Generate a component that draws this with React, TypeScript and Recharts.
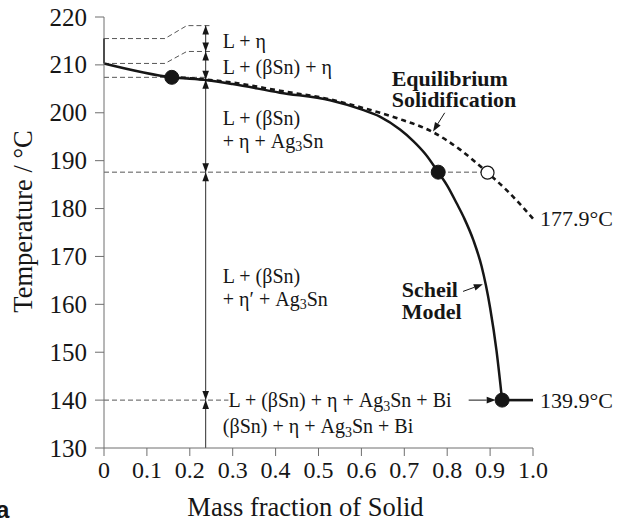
import React from 'react';
import {
  ComposedChart, Line, Scatter, XAxis, YAxis, ReferenceLine, ReferenceDot
} from 'recharts';

const SERIF = '"Liberation Serif", "Times New Roman", serif';
const INK = '#161616';
const AXIS = '#6e6e6e';

// axes
const xTicks = [0, 0.1, 0.2, 0.3, 0.4, 0.5, 0.6, 0.7, 0.8, 0.9, 1.0];
const yTicks = [130, 140, 150, 160, 170, 180, 190, 200, 210, 220];

// Scheil model (solid)
const scheilX = [0, 0.158, 0.24, 0.3, 0.41, 0.527, 0.6, 0.643, 0.69, 0.721, 0.75, 0.779, 0.8, 0.822, 0.84, 0.861, 0.88, 0.9, 0.915, 0.928];
const scheilT = [210.3, 207.4, 206.8, 206.0, 204.2, 202.6, 200.7, 199.2, 196.5, 194.1, 191.3, 187.6, 184.8, 181.1, 177.9, 173.4, 168.0, 159.3, 150.3, 140.0];
const scheilTailX = [0.928, 1.0];
const scheilTailT = [140.0, 140.0];
const liquidusX = [0, 0];
const liquidusT = [210.3, 215.5];

// equilibrium solidification (dashed)
const equilX = [0.158, 0.3, 0.41, 0.527, 0.604, 0.682, 0.768, 0.83, 0.894, 0.939, 1.0];
const equilT = [207.5, 206.3, 204.6, 202.8, 201.0, 198.9, 195.9, 192.3, 187.5, 183.8, 177.9];

// thin dashed guides
const guideLX = [0, 0.142, 0.193, 0.247];
const guideLT = [215.5, 215.5, 218.2, 218.2];
const guideEtaX = [0, 0.142, 0.193, 0.247];
const guideEtaT = [210.3, 210.3, 212.8, 212.8];
const guideSnX = [0, 0.24];
const guideSnT = [207.4, 207.4];
const guideAgX = [0, 0.894];
const guideAgT = [187.6, 187.6];
const guideBiX = [0, 0.29];
const guideBiT = [140.0, 140.0];

// vertical phase-range arrows
const rangeX = 0.237;
const rangeTop = 218.2;
const rangeBottom = 130;
const boundaryT = [218.2, 212.8, 206.9, 187.6, 140.0];

// markers
const filledDots = [
  { x: 0.158, y: 207.4 },
  { x: 0.779, y: 187.6 },
  { x: 0.928, y: 140.0 },
];
const openDots = [{ x: 0.894, y: 187.5 }];

// text annotations ({3} = subscript)
const phaseLabels = [
  { x: 0.277, y: 214.9, text: 'L + η' },
  { x: 0.277, y: 209.6, text: 'L + (βSn) + η' },
  { x: 0.277, y: 199.0, text: 'L + (βSn)' },
  { x: 0.277, y: 194.2, text: '+ η + Ag{3}Sn' },
  { x: 0.277, y: 165.9, text: 'L + (βSn)' },
  { x: 0.277, y: 161.2, text: '+ η′ + Ag{3}Sn' },
  { x: 0.29, y: 140.0, text: 'L + (βSn) + η + Ag{3}Sn + Bi' },
  { x: 0.277, y: 134.5, text: '(βSn) + η + Ag{3}Sn + Bi' },
];
const modelLabels = [
  { x: 0.6706, y: 207.2, text: 'Equilibrium' },
  { x: 0.6706, y: 202.7, text: 'Solidification' },
  { x: 0.694, y: 163.0, text: 'Scheil' },
  { x: 0.694, y: 158.5, text: 'Model' },
];
const pointerArrows = [
  { x: 0.767, y: 196.1, angle: 122, shaft: 13 },
  { x: 0.883, y: 164.2, angle: -20, shaft: 12 },
  { x: 0.913, y: 140.0, angle: 0, shaft: 18 },
];

const pts = (xs: number[], ys: number[]) => xs.map((x, i) => ({ x, y: ys[i] }));

const rangeHeads = boundaryT.flatMap((t, i) =>
  i === 0
    ? [{ x: rangeX, y: t, angle: -90, shaft: 0 }]
    : [{ x: rangeX, y: t, angle: 90, shaft: 0 }, { x: rangeX, y: t, angle: -90, shaft: 0 }]
);

const rich = (s: string, fs: number) =>
  s.split(/\{(\d)\}/).map((part, i) =>
    i % 2 === 1
      ? <tspan key={i} fontSize={fs * 0.7} dy={fs * 0.28}>{part}</tspan>
      : <tspan key={i} dy={i > 0 ? -fs * 0.28 : 0}>{part}</tspan>
  );

const Arrow = (p: any) => {
  const { cx, cy, payload } = p;
  const a = (payload.angle * Math.PI) / 180;
  const ux = Math.cos(a), uy = Math.sin(a);
  const head = 9, half = 3.3;
  const bx = cx - ux * head, by = cy - uy * head;
  const tx = cx - ux * (head + payload.shaft), ty = cy - uy * (head + payload.shaft);
  return (
    <g>
      {payload.shaft > 0 && <line x1={tx} y1={ty} x2={bx} y2={by} stroke={INK} strokeWidth={1} />}
      <polygon
        points={`${cx},${cy} ${bx - uy * half},${by + ux * half} ${bx + uy * half},${by - ux * half}`}
        fill={INK}
      />
    </g>
  );
};

const PhaseText = (p: any) => (
  <text x={p.cx} y={p.cy} fill={INK} fontSize={20} fontFamily={SERIF} dominantBaseline="central">
    {rich(p.payload.text, 20)}
  </text>
);

const ModelText = (p: any) => (
  <text x={p.cx} y={p.cy} fill={INK} fontSize={22} fontWeight={700} fontFamily={SERIF} dominantBaseline="central">
    {p.payload.text}
  </text>
);

// axis tick text: font set through style (the attribute gets overridden on ticks)
const XTick = (p: any) => (
  <text x={p.x} y={p.y} dy="0.72em" textAnchor="middle" fill={INK} style={{ fontSize: '24px', fontFamily: SERIF }}>
    {p.payload.value === 0 ? '0' : Number(p.payload.value).toFixed(1)}
  </text>
);

const YTick = (p: any) => (
  <text x={p.x} y={p.y} textAnchor="end" dominantBaseline="central" fill={INK} style={{ fontSize: '25px', fontFamily: SERIF }}>
    {p.payload.value}
  </text>
);

const guideStyle = { stroke: '#444', strokeWidth: 0.9, strokeDasharray: '5 3', dot: false, isAnimationActive: false, type: 'linear' as const };

export default function App() {
  return (
    <div style={{ position: 'absolute', left: 0, top: 0, width: 618, height: 525, background: '#fff' }}>
      <ComposedChart width={618} height={525} margin={{ top: 17, right: 85, bottom: 0, left: 0 }}>
        <XAxis
          type="number" dataKey="x" domain={[0, 1]} ticks={xTicks} interval={0}
          height={77} tickSize={8} tickMargin={5} stroke={AXIS} tick={XTick}
          label={({ viewBox }: any) => (
            <text x={viewBox.x + viewBox.width / 2 - 13} y={viewBox.y + 68} textAnchor="middle"
              fill={INK} fontSize={26.5} fontFamily={SERIF}>Mass fraction of Solid</text>
          )}
        />
        <XAxis xAxisId="t" orientation="top" type="number" dataKey="x" domain={[0, 1]} ticks={xTicks}
          interval={0} height={0} tickSize={8} stroke={AXIS} tickFormatter={() => ''} />
        <YAxis
          type="number" domain={[130, 220]} ticks={yTicks} interval={0}
          width={104} tickSize={9} tickMargin={8} stroke={AXIS} tick={YTick}
          label={({ viewBox }: any) => {
            const cx = 22.5, cy = viewBox.y + viewBox.height / 2 - 11;
            return (
              <text x={cx} y={cy} transform={`rotate(-90, ${cx}, ${cy})`} textAnchor="middle"
                dominantBaseline="central" fill={INK} fontSize={26.5} fontFamily={SERIF}>
                Temperature  /  °C
              </text>
            );
          }}
        />
        <YAxis yAxisId="r" orientation="right" type="number" domain={[130, 220]} ticks={yTicks}
          interval={0} width={0} tickSize={8} stroke={AXIS} tickFormatter={() => ''} />

        <Line data={pts(guideLX, guideLT)} dataKey="y" {...guideStyle} />
        <Line data={pts(guideEtaX, guideEtaT)} dataKey="y" {...guideStyle} />
        <Line data={pts(guideSnX, guideSnT)} dataKey="y" {...guideStyle} />
        <Line data={pts(guideAgX, guideAgT)} dataKey="y" {...guideStyle} />
        <Line data={pts(guideBiX, guideBiT)} dataKey="y" {...guideStyle} />

        <ReferenceLine segment={[{ x: rangeX, y: rangeTop }, { x: rangeX, y: rangeBottom }]}
          stroke={INK} strokeWidth={0.9} />

        <Line data={pts(liquidusX, liquidusT)} dataKey="y" type="linear" stroke={INK}
          strokeWidth={1.8} dot={false} isAnimationActive={false} />
        <Line data={pts(equilX, equilT)} dataKey="y" type="monotone" stroke={INK}
          strokeWidth={2.6} strokeDasharray="5 4" dot={false} isAnimationActive={false} />
        <Line data={pts(scheilX, scheilT)} dataKey="y" type="monotone" stroke={INK}
          strokeWidth={2.5} dot={false} isAnimationActive={false} />
        <Line data={pts(scheilTailX, scheilTailT)} dataKey="y" type="linear" stroke={INK}
          strokeWidth={2.6} dot={false} isAnimationActive={false} />

        {filledDots.map((d, i) => (
          <ReferenceDot key={`f${i}`} x={d.x} y={d.y} r={7} fill={INK} stroke={INK} />
        ))}
        {openDots.map((d, i) => (
          <ReferenceDot key={`o${i}`} x={d.x} y={d.y} r={6.5} fill="#fff" stroke={INK} strokeWidth={1.2} />
        ))}

        <ReferenceLine y={177.9} stroke="none"
          label={{ value: '177.9°C', position: 'right', offset: 7, fill: INK, fontSize: 22, fontFamily: SERIF }} />
        <ReferenceLine y={139.9} stroke="none"
          label={{ value: '139.9°C', position: 'right', offset: 7, fill: INK, fontSize: 22, fontFamily: SERIF }} />

        <Scatter data={rangeHeads} dataKey="y" shape={Arrow} isAnimationActive={false} />
        <Scatter data={pointerArrows} dataKey="y" shape={Arrow} isAnimationActive={false} />
        <Scatter data={phaseLabels} dataKey="y" shape={PhaseText} isAnimationActive={false} />
        <Scatter data={modelLabels} dataKey="y" shape={ModelText} isAnimationActive={false} />
      </ComposedChart>
      <div style={{
        position: 'absolute', left: -4, top: 498, fontFamily: '"Liberation Sans", Arial, sans-serif',
        fontWeight: 700, fontSize: 24, color: INK, lineHeight: '24px'
      }}>a</div>
    </div>
  );
}
